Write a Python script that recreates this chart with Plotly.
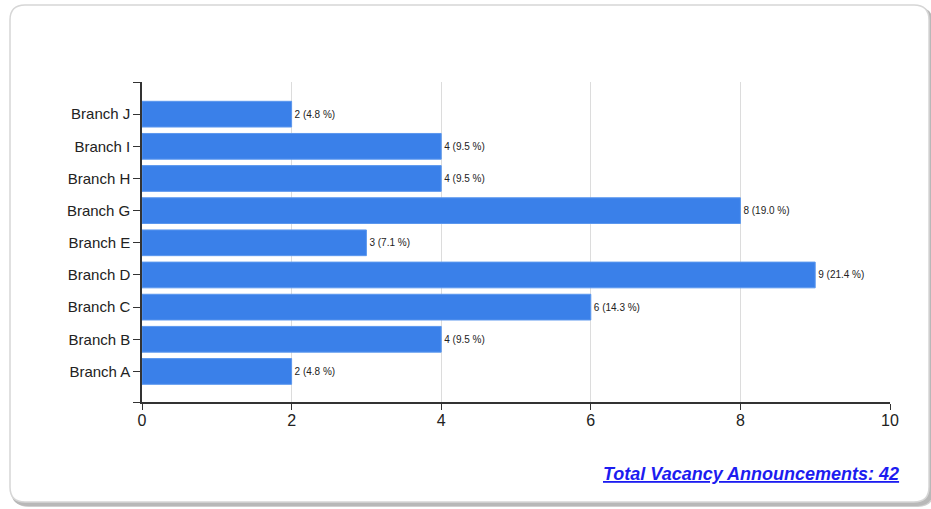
import plotly.graph_objects as go

categories = ["Branch A", "Branch B", "Branch C", "Branch D", "Branch E",
              "Branch G", "Branch H", "Branch I", "Branch J"]
values = [2, 4, 6, 9, 3, 8, 4, 4, 2]
total = 42
x_ticks = [0, 2, 4, 6, 8, 10]

labels = [f"{v} ({v / total * 100:.1f} %)" for v in values]
positions = list(range(len(categories)))

W, H = 931, 509
L, R, T, B = 142, 41, 82, 107
PW, PH = W - L - R, H - T - B


def px(x):
    return (x - L) / PW


def py(y):
    return (H - B - y) / PH


def rounded_rect(x0, y0, x1, y1, r):
    return (f"M {px(x0 + r)},{py(y0)} L {px(x1 - r)},{py(y0)} "
            f"Q {px(x1)},{py(y0)} {px(x1)},{py(y0 + r)} "
            f"L {px(x1)},{py(y1 - r)} Q {px(x1)},{py(y1)} {px(x1 - r)},{py(y1)} "
            f"L {px(x0 + r)},{py(y1)} Q {px(x0)},{py(y1)} {px(x0)},{py(y1 - r)} "
            f"L {px(x0)},{py(y0 + r)} Q {px(x0)},{py(y0)} {px(x0 + r)},{py(y0)} Z")


fig = go.Figure(go.Bar(
    x=values, y=positions, orientation="h",
    marker=dict(color="#3a80e9", line=dict(color="#5b97ee", width=1)),
    text=labels, textposition="outside", cliponaxis=False,
    textfont=dict(size=10, color="#222", family="Arial"),
    width=0.8,
))

shapes = [
    dict(type="path", xref="paper", yref="paper", layer="below",
         path=rounded_rect(13, 9, 934, 507, 16),
         fillcolor="#d0d0d0", line=dict(width=0)),
    dict(type="path", xref="paper", yref="paper", layer="below",
         path=rounded_rect(11, 7, 933, 506, 16),
         fillcolor="#b8b8b8", line=dict(width=0)),
    dict(type="path", xref="paper", yref="paper", layer="below",
         path=rounded_rect(10, 5, 929, 502, 15),
         fillcolor="white", line=dict(color="#d6d6d6", width=1.5)),
]

fig.update_layout(
    width=W, height=H,
    margin=dict(l=L, r=R, t=T, b=B),
    paper_bgcolor="white", plot_bgcolor="rgba(0,0,0,0)",
    showlegend=False,
    shapes=shapes,
    font=dict(family="Arial, Liberation Sans", color="#222"),
    xaxis=dict(range=[0, 10], tickvals=x_ticks, showgrid=True, gridcolor="#dcdcdc",
               gridwidth=1, zeroline=False, showline=True, linecolor="#333",
               linewidth=1.5, ticks="outside", ticklen=6, tickcolor="#333",
               ticklabelstandoff=-3,
               tickfont=dict(size=16, color="#222")),
    yaxis=dict(range=[-0.95, 9], tickmode="array",
               tickvals=[-0.95] + positions + [len(categories)],
               ticktext=[""] + categories + [""],
               showgrid=False, zeroline=False, showline=True, linecolor="#333",
               linewidth=1.5, ticks="outside", ticklen=7, tickcolor="#333",
               tickfont=dict(size=15, color="#222")),
    annotations=[dict(
        xref="paper", yref="paper", x=px(901), y=py(474), xanchor="right", yanchor="middle",
        text="Total Vacancy Announcements: 42", showarrow=False,
        font=dict(size=18, color="#1c1cf0", family="Arial",
                  weight="bold", style="italic", lineposition="under"),
    )],
)

fig.write_html("out.html", config={"displayModeBar": False},
               post_script="document.body.style.margin='0';")
